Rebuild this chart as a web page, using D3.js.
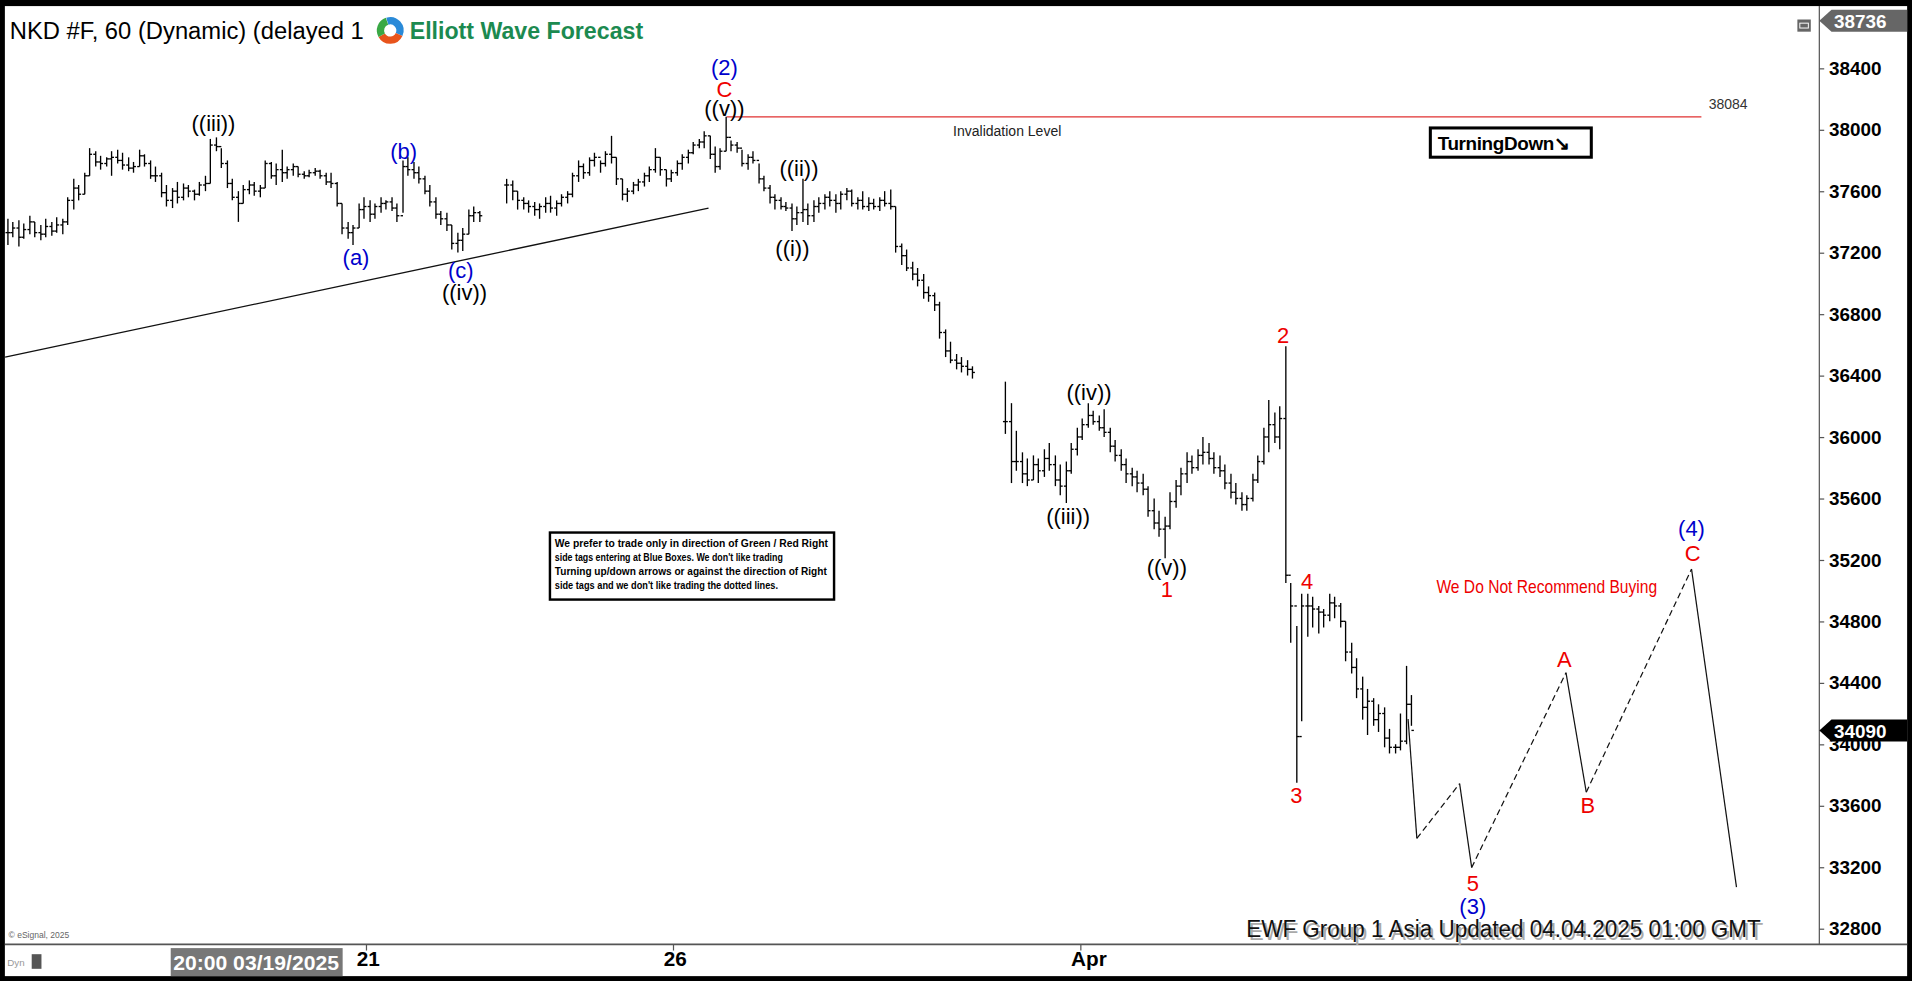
<!DOCTYPE html>
<html>
<head>
<meta charset="utf-8">
<script src="https://cdn.jsdelivr.net/npm/d3@7"></script>
<style>
  html, body { margin: 0; padding: 0; background: #000; overflow: hidden; }
  svg { display: block; }
  text { font-family: 'Liberation Sans', Arial, sans-serif; }
</style>
</head>
<body>
<svg id="chart" width="1912" height="981" viewBox="0 0 1568 805" preserveAspectRatio="none"></svg>
<script>
// hourly bars, index 0..256 (null = no trading)
const highs = [
  37420,37400,37410,37390,37440,37400,37380,37420,37400,37430,37420,37560,37680,37640,37720,37880,
  37860,37830,37820,37860,37870,37850,37820,37790,37870,37840,37800,37760,37720,
  37640,37620,37660,37650,37640,37610,37660,37700,37940,37950,37880,37800,37680,37600,
  37640,37670,37660,37640,37800,37790,37780,37870,37760,
  37780,37760,37730,37740,37750,37740,37720,37720,37660,37520,37400,37380,
  37520,37560,37540,37520,37560,37540,37560,37520,37800,37820,37790,37760,
  37700,37640,37560,37470,37460,37380,37330,37360,37480,37500,37470,
  null,null,null,null,
  37680,37670,37600,37560,37540,37530,37520,37560,37570,37540,37580,37600,
  37720,37800,37780,37820,37850,37800,37860,37960,37820,37680,37620,
  37660,37680,37720,37760,37880,37820,37740,37740,37800,37840,37870,37920,37940,
  37990,37960,37890,37880,38084,37930,37920,37870,37840,37860,37780,37700,37640,37580,37560,37530,
  37520,37500,37680,37520,37540,37560,
  37580,37600,37580,37600,37620,37610,37560,37600,37560,37550,37560,37600,37610,
  37500,37260,37220,37140,37100,37060,36980,36940,36880,36700,36620,36540,36520,36500,36460,
  null,null,null,null,null,
  36360,36220,36040,35900,35860,35880,35860,35920,35960,35880,35820,35840,
  35960,36060,36120,36220,36170,36140,36180,36060,35980,35920,35860,35800,35780,35760,
  35680,35600,35520,35480,35640,35720,35800,35900,35880,35920,36000,35960,35900,35880,
  35820,35760,35700,35640,35620,35760,35880,36060,36240,36160,36200,
  36590,35050,34770,34980,34980,34960,34900,34880,34980,34960,34920,
  34800,34660,34560,34440,34360,34300,34260,34240,34100,34000,34200,34510,34320
];
const lows = [
  37250,37300,37240,37290,37320,37300,37280,37300,37310,37330,37320,37380,37480,37540,37580,37700,
  37760,37740,37760,37700,37780,37740,37730,37720,37760,37760,37680,37660,37560,
  37500,37490,37520,37540,37560,37540,37570,37600,37650,37860,37750,37620,37540,37400,
  37520,37580,37570,37560,37620,37680,37640,37660,37680,
  37700,37690,37680,37690,37700,37680,37640,37620,37500,37320,37290,37250,
  37360,37420,37400,37420,37460,37480,37470,37400,37460,37700,37680,37650,
  37580,37500,37420,37380,37340,37220,37200,37210,37320,37400,37400,
  null,null,null,null,
  37520,37540,37480,37480,37460,37440,37420,37460,37460,37440,37500,37520,
  37560,37660,37680,37700,37760,37720,37760,37780,37640,37540,37530,
  37580,37600,37630,37660,37720,37700,37630,37660,37700,37740,37780,37840,37880,
  37880,37810,37720,37740,37860,37860,37850,37760,37740,37780,37650,37600,37520,37480,37480,37470,
  37340,37380,37400,37380,37400,37460,
  37480,37500,37460,37480,37540,37500,37480,37480,37470,37480,37470,37500,37480,
  37200,37120,37080,37020,36980,36900,36880,36820,36640,36520,36480,36440,36420,36400,36380,
  null,null,null,null,null,
  36020,35700,35780,35700,35680,35720,35700,35740,35780,35680,35620,35570,
  35760,35880,35980,36060,36080,36040,36000,35900,35840,35780,35700,35680,35640,35620,
  35480,35400,35350,35210,35400,35540,35620,35700,35760,35780,35820,35820,35760,35740,
  35660,35600,35560,35520,35520,35580,35700,35820,35900,35960,35920,
  35050,34660,33750,34150,34700,34760,34720,34760,34800,34820,34760,
  34540,34460,34300,34160,34060,34120,34080,33980,33940,33940,33960,34000,34120
];
const closes = [
  37330,37360,37300,37350,37400,37330,37320,37370,37340,37380,37400,37540,37620,37580,37700,37840,
  37790,37780,37810,37820,37800,37770,37750,37760,37830,37780,37700,37700,37590,
  37540,37600,37560,37620,37600,37580,37640,37650,37900,37890,37780,37650,37560,37520,
  37610,37640,37600,37620,37780,37700,37740,37720,37740,
  37760,37710,37700,37720,37730,37700,37660,37650,37520,37360,37330,37360,
  37480,37500,37450,37500,37520,37530,37490,37440,37760,37740,37720,37680,
  37600,37530,37450,37420,37380,37260,37280,37320,37440,37460,37440,
  null,null,null,null,
  37640,37600,37540,37520,37500,37480,37500,37520,37490,37520,37560,37580,
  37700,37760,37720,37800,37820,37780,37840,37820,37680,37580,37600,
  37640,37660,37700,37740,37820,37740,37680,37720,37780,37820,37850,37900,37920,
  37960,37840,37760,37860,37950,37900,37880,37780,37820,37800,37680,37620,37560,37540,37500,37490,
  37420,37460,37480,37440,37500,37520,
  37560,37540,37520,37580,37600,37520,37540,37500,37520,37500,37540,37520,37500,
  37240,37180,37100,37060,37020,36940,36920,36860,36680,36560,36500,36480,36460,36440,36420,
  null,null,null,null,null,
  36100,35840,35840,35760,35720,35820,35780,35860,35820,35720,35680,35780,
  35920,36000,36080,36140,36100,36060,36030,35940,35880,35820,35760,35740,35700,35660,
  35520,35440,35400,35420,35580,35680,35760,35840,35800,35880,35900,35860,35800,35780,
  35700,35640,35600,35560,35600,35720,35840,36000,36080,36000,36120,
  35100,34900,34050,34900,34900,34880,34860,34840,34920,34900,34800,
  34600,34500,34360,34240,34280,34160,34200,34040,33980,33980,34020,34260,34090
];

// projected path [bar index, price]
const projIdx   = [255.5, 257.1, 264.9, 267.1, 284.3, 288.0, 307.2, 315.4];
const projPrice = [34164, 33387, 33744, 33197, 34466, 33688, 35140, 33070];
const projDashed = [false, true, false, true, false, true, false];

// wave labels
const labelText  = ['((iii))','(b)','(a)','(c)','((iv))','(2)','C','((v))','((ii))','((i))',
                    '((iv))','((iii))','((v))','1','2','4','3','5','(3)','A','B','C','(4)'];
const labelIdx   = [37.6,72.3,63.6,82.7,83.4,130.8,130.8,130.8,144.4,143.2,
                    197.3,193.5,211.5,211.5,232.7,237.1,235.1,267.3,267.3,284,288.3,307.4,307.2];
const labelPrice = [38043,37860,37170,37083,36940,38408,38260,38135,37750,37226,
                    36290,35481,35148,35005,36663,35061,33665,33094,32943,34553,33601,35243,35402];
const labelColor = ['#000','#00c','#00c','#00c','#000','#00c','#e00','#000','#000','#000',
                    '#000','#000','#000','#e00','#e00','#e00','#e00','#e00','#00c','#e00','#e00','#e00','#00c'];

const trendIdx = [-0.4, 127.9];
const trendPrice = [36520, 37490];
const invalidation = 38084;
const invalidationIdx = [131.2, 309];

const yTicks = d3.range(32800, 38401, 400);
const dateTickIdx = [65.4, 121.4, 195.7];
const dateTickText = ['21', '26', 'Apr'];
const lastPrice = 34090, topPrice = 38736;

const W = 1568, H = 805;
const plotR = 1492, plotB = 775;
const svg = d3.select('#chart');

const x = d3.scaleLinear().domain([0, 256]).range([6, 1157]);
const y = d3.scaleLinear().domain([32800, 38400]).range([762, 56]);

// squeeze text to a given width (the original uses a narrow face)
function narrow(sel, w) {
  return sel.attr('textLength', w).attr('lengthAdjust', 'spacingAndGlyphs');
}

// frame
svg.append('rect').attr('width', W).attr('height', H).attr('fill', '#000');
svg.append('rect').attr('x', 4).attr('y', 5).attr('width', W - 8).attr('height', H - 9)
  .attr('fill', '#fff');
svg.append('line').attr('x1', plotR).attr('x2', plotR).attr('y1', 5).attr('y2', plotB)
  .attr('stroke', '#555');
svg.append('line').attr('x1', 4).attr('x2', W - 4).attr('y1', plotB).attr('y2', plotB)
  .attr('stroke', '#555').attr('stroke-width', 1.5);

const plot = svg.append('g');

// trend line
plot.append('line')
  .attr('x1', x(trendIdx[0])).attr('y1', y(trendPrice[0]))
  .attr('x2', x(trendIdx[1])).attr('y2', y(trendPrice[1]))
  .attr('stroke', '#111').attr('stroke-width', 1.1);

// invalidation
plot.append('line')
  .attr('x1', x(invalidationIdx[0])).attr('x2', x(invalidationIdx[1]))
  .attr('y1', y(invalidation)).attr('y2', y(invalidation))
  .attr('stroke', '#e03030').attr('stroke-width', 1);
plot.append('text').attr('x', x(invalidationIdx[1]) + 6).attr('y', y(invalidation) - 6)
  .attr('font-size', 11.5).attr('fill', '#333').text(invalidation);
plot.append('text').attr('x', 826).attr('y', y(invalidation) + 16)
  .attr('text-anchor', 'middle').attr('font-size', 11.5).attr('fill', '#222').text('Invalidation Level');

// OHLC bars
const bars = d3.range(highs.length).filter(i => highs[i] !== null);
const bg = plot.append('g').attr('stroke', '#000').attr('stroke-width', 1.1);
bars.forEach(i => {
  const cx = Math.round(x(i)) + 0.5;
  bg.append('line').attr('x1', cx).attr('x2', cx).attr('y1', y(highs[i])).attr('y2', y(lows[i]));
  const op = (i > 0 && closes[i - 1] !== null) ? closes[i - 1] : closes[i];
  bg.append('line').attr('x1', cx - 2).attr('x2', cx).attr('y1', y(op)).attr('y2', y(op));
  bg.append('line').attr('x1', cx).attr('x2', cx + 2).attr('y1', y(closes[i])).attr('y2', y(closes[i]));
});

// projection
for (let k = 0; k < projDashed.length; k++) {
  plot.append('line')
    .attr('x1', x(projIdx[k])).attr('y1', y(projPrice[k]))
    .attr('x2', x(projIdx[k + 1])).attr('y2', y(projPrice[k + 1]))
    .attr('stroke', '#111').attr('stroke-width', 1)
    .attr('stroke-dasharray', projDashed[k] ? '5,3' : null);
}

// wave labels
labelText.forEach((t, k) => {
  plot.append('text')
    .attr('x', x(labelIdx[k])).attr('y', y(labelPrice[k]))
    .attr('text-anchor', 'middle').attr('dominant-baseline', 'central')
    .attr('font-size', 18).attr('fill', labelColor[k]).text(t);
});

// Turning down box
const tb = plot.append('g').attr('transform', 'translate(1173,105)');
tb.append('rect').attr('width', 132).attr('height', 24).attr('fill', '#fff')
  .attr('stroke', '#000').attr('stroke-width', 2.5);
tb.append('text').attr('x', 6).attr('y', 18).attr('font-size', 15.5).attr('font-weight', 'bold')
  .attr('letter-spacing', -0.3).text('TurningDown\u2198');

// notice box
const nb = plot.append('g').attr('transform', 'translate(451,437)');
nb.append('rect').attr('width', 233).attr('height', 55).attr('fill', '#fff')
  .attr('stroke', '#000').attr('stroke-width', 2);
const noteLines = ['We prefer to trade only in direction of Green / Red Right',
 'side tags entering at Blue Boxes. We don\'t like trading',
 'Turning up/down arrows or against the direction of Right',
 'side tags and we don\'t like trading the dotted lines.'];
const noteW = [224, 187, 223, 183];
noteLines.forEach((t, k) => {
  narrow(nb.append('text').attr('x', 4).attr('y', 12 + k * 11.5).attr('font-size', 8.6)
    .attr('font-weight', 'bold').text(t), noteW[k]);
});

narrow(plot.append('text').attr('x', 1178).attr('y', 487)
  .attr('font-size', 14.5).attr('fill', '#e00')
  .text('We Do Not Recommend Buying'), 181);

// footer stamp
const stamp = 'EWF Group 1 Asia Updated 04.04.2025 01:00 GMT';
narrow(plot.append('text').attr('x', 1024).attr('y', 771).attr('font-size', 20).attr('fill', '#aaa')
  .text(stamp), 422);
narrow(plot.append('text').attr('x', 1022).attr('y', 769).attr('font-size', 20).attr('fill', '#111')
  .text(stamp), 422);
plot.append('text').attr('x', 7).attr('y', 770).attr('font-size', 7).attr('fill', '#666')
  .text('\u00a9 eSignal, 2025');

// header
svg.append('text').attr('x', 8).attr('y', 32).attr('font-size', 19.5).attr('fill', '#000')
  .text('NKD #F, 60 (Dynamic) (delayed 1');
const logo = svg.append('g').attr('transform', 'translate(320,25)');
const arc = d3.arc().innerRadius(5).outerRadius(11);
[['#2a8ad8', -0.3, 2.0], ['#e8541c', 2.0, 4.2], ['#3aa845', 4.2, 5.95]].forEach(([c, a0, a1]) => {
  logo.append('path').attr('d', arc({ startAngle: a0, endAngle: a1 })).attr('fill', c);
});
svg.append('text').attr('x', 336).attr('y', 32).attr('font-size', 19).attr('font-weight', 'bold')
  .attr('fill', '#1c8a50').text('Elliott Wave Forecast');
svg.append('rect').attr('x', 1474).attr('y', 16).attr('width', 11).attr('height', 10).attr('fill', '#666');
svg.append('rect').attr('x', 1476).attr('y', 19).attr('width', 7).attr('height', 4)
  .attr('fill', 'none').attr('stroke', '#fff').attr('stroke-width', 0.8);

// right axis
const ya = svg.append('g').attr('transform', `translate(${plotR},0)`)
  .call(d3.axisRight(y).tickValues(yTicks).tickSize(4).tickFormat(d3.format('d')));
ya.select('.domain').remove();
ya.selectAll('line').attr('stroke', '#555');
ya.selectAll('text').attr('font-size', 15.5).attr('font-weight', 'bold').attr('fill', '#000')
  .attr('x', 8).style('font-family', "'Liberation Sans', Arial");

function priceTag(p, fill, yy) {
  const g = svg.append('g').attr('transform', `translate(${plotR},${yy})`);
  g.append('path').attr('d', 'M0,0 L10,-9 L72,-9 L72,9 L10,9 Z').attr('fill', fill);
  g.append('text').attr('x', 12).attr('y', 6).attr('font-size', 15.5).attr('font-weight', 'bold')
    .attr('fill', '#fff').text(p);
}
priceTag(topPrice, '#666', 17);
priceTag(lastPrice, '#000', y(lastPrice));

// bottom axis
const xa = svg.append('g').attr('transform', `translate(0,${plotB})`)
  .call(d3.axisBottom(x).tickValues(dateTickIdx).tickSize(5).tickFormat((d, k) => dateTickText[k]));
xa.select('.domain').remove();
xa.selectAll('line').attr('stroke', '#555');
xa.selectAll('text').attr('font-size', 17).attr('font-weight', 'bold').attr('fill', '#000')
  .attr('y', 5).attr('dy', '0.75em').attr('text-anchor', 'start').attr('dx', -8);
svg.append('rect').attr('x', 140).attr('y', 778).attr('width', 141).attr('height', 23).attr('fill', '#777');
narrow(svg.append('text').attr('x', 142).attr('y', 796).attr('font-size', 17).attr('font-weight', 'bold')
  .attr('fill', '#fff').text('20:00 03/19/2025'), 136);
svg.append('text').attr('x', 6).attr('y', 793).attr('font-size', 8).attr('fill', '#999').text('Dyn');
svg.append('rect').attr('x', 26).attr('y', 783).attr('width', 8).attr('height', 12).attr('fill', '#555');
</script>
</body>
</html>
